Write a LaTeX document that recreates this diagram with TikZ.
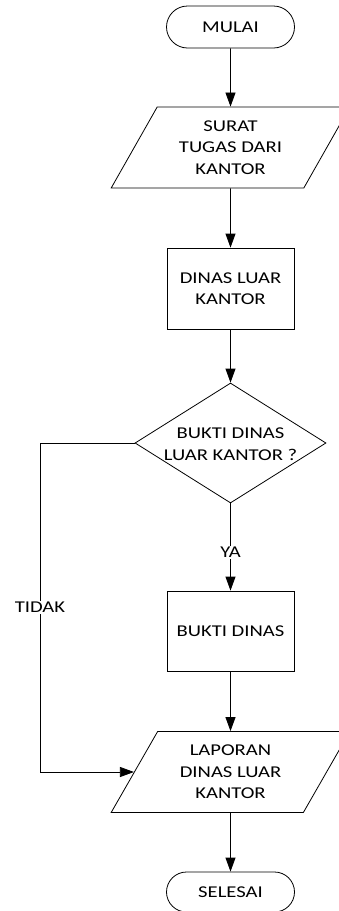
\documentclass[tikz,border=0pt]{standalone}
\usepackage{fontspec}
\setmainfont{Carlito}[FakeStretch=1.25]
\usetikzlibrary{shapes.geometric,shapes.misc,arrows.meta}
\begin{document}
\begin{tikzpicture}[x=1pt,y=-1pt,
  every node/.style={font=\fontsize{16.5}{21.5}\selectfont, align=center, text=black},
  line/.style={line width=0.8pt, draw=black},
  arr/.style={line, -{Triangle[length=14pt,width=10pt]}},
  term/.style={rounded rectangle, draw, line width=0.8pt, minimum width=128pt, minimum height=42pt, inner sep=0pt},
  proc/.style={rectangle, draw, line width=0.8pt, minimum width=127pt, minimum height=81pt, inner sep=0pt},
  io/.style={trapezium, draw, line width=0.8pt, trapezium left angle=59, trapezium right angle=121, trapezium stretches=true, minimum width=239pt, minimum height=81pt, inner sep=0pt},
  dec/.style={diamond, draw, line width=0.8pt, minimum width=191pt, minimum height=120pt, inner sep=0pt},
  lbl/.style={fill=white, inner sep=1pt}]
\useasboundingbox (0,0) rectangle (339,911);
\node[term] (start) at (230.5,27) {MULAI};
\node[io] (io1) at (230.5,147.5) {SURAT\\TUGAS DARI\\KANTOR};
\node[proc] (p1) at (230.5,288.5) {DINAS LUAR\\KANTOR};
\node[dec] (d) at (230.5,443) {};
\node (dtxt) at (230.5,444) {BUKTI DINAS\\LUAR KANTOR ?};
\node[proc, minimum height=80pt] (p2) at (230.5,631) {BUKTI DINAS};
\node[io] (io2) at (230.5,772) {LAPORAN\\DINAS LUAR\\KANTOR};
\node[term, minimum height=40pt] (end) at (230.5,892) {SELESAI};
\coordinate (tk) at (40,443);
\draw[arr] (start) -- (io1);
\draw[arr] (io1) -- (p1);
\draw[arr] (p1) -- (d);
\draw[arr] (d.south) -- node[lbl, pos=0.56] {YA} (p2.north);
\draw[arr] (p2) -- (io2);
\draw[arr] (io2) -- (end);
\draw[arr] (d.west) -- (tk) |- node[lbl, pos=0.25] {TIDAK} (io2.left side);
\end{tikzpicture}
\end{document}
